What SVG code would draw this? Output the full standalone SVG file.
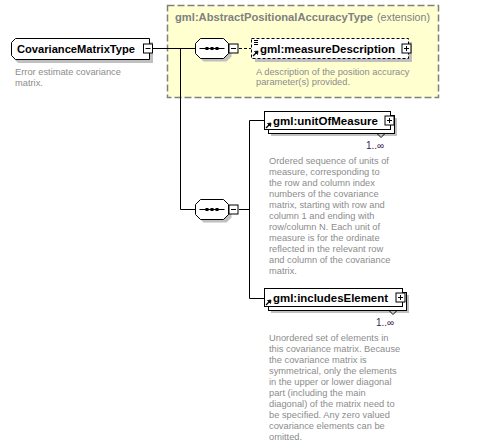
<svg xmlns="http://www.w3.org/2000/svg" width="482" height="447" viewBox="0 0 482 447">
<style>
.bg{fill:#ffffff}
.ext{fill:#ffffd0;stroke:#808080;stroke-width:1.5;stroke-dasharray:7 3}
.shadow{fill:#c0c0c0}
.box{fill:#ffffff;stroke:#000000;stroke-width:1}
.dbox{fill:#ffffff;stroke:#000000;stroke-width:1;stroke-dasharray:3 2}
.ln{fill:none;stroke:#000000;stroke-width:1}
.dln{fill:none;stroke:#000000;stroke-width:1;stroke-dasharray:3 2}
.name{font-family:"Liberation Sans",Arial,sans-serif;font-weight:bold;font-size:11px;fill:#000000}
.title{font-family:"Liberation Sans",Arial,sans-serif;font-size:11px;fill:#808080}
.desc{font-family:"Liberation Sans",Arial,sans-serif;font-size:9.3px;fill:#8c8c8c}
.occ{font-family:"Liberation Sans",Arial,sans-serif;font-size:10px;fill:#402050}
</style>
<defs>
<g id="plus"><rect x="-4.5" y="-4.5" width="9" height="9" fill="#ffffff" stroke="#000000"/><path d="M-2.5 0H2.5M0 -2.5V2.5" stroke="#000000"/></g>
<g id="minus"><rect x="-4.5" y="-4.5" width="9" height="9" fill="#ffffff" stroke="#000000"/><path d="M-2.5 0H2.5" stroke="#000000"/></g>
<g id="seq"><path d="M3 -2 L8 -7 L31 -7 L36 -2 L36 8 L31 13 L8 13 L3 8 Z" class="shadow"/><path d="M0 -5 L5 -10 L28 -10 L33 -5 L33 5 L28 10 L5 10 L0 5 Z" fill="#ffffff" stroke="#000000"/><path d="M4 0H29" stroke="#000000"/><rect x="10" y="-1.5" width="3" height="3" fill="#000000"/><rect x="15" y="-1.5" width="3" height="3" fill="#000000"/><rect x="20" y="-1.5" width="3" height="3" fill="#000000"/></g>
<g id="ref"><path d="M0 5 L4 1" stroke="#000000" stroke-width="1.2"/><path d="M5 0 L1.5 0.5 L4.5 3.5 Z" fill="#000000" stroke="#000000" stroke-width="0.8"/></g>
</defs>
<rect class="bg" x="0" y="0" width="482" height="447"/>
<g id="extension">
<rect class="ext" x="167.5" y="5.5" width="271" height="92"/>
<text class="title" x="175" y="21"><tspan font-weight="bold" textLength="198" lengthAdjust="spacingAndGlyphs">gml:AbstractPositionalAccuracyType</tspan><tspan x="377" textLength="53" lengthAdjust="spacingAndGlyphs">(extension)</tspan></text>
</g>
<g id="connectors">
<path class="ln" d="M153 48.5H195"/>
<path class="ln" d="M180.5 48.5V209.5H195"/>
<path class="dln" d="M239 48.5H251"/>
<path class="ln" d="M239 209.5H249.5"/>
<path class="ln" d="M264 120.5H249.5V298.5H264"/>
</g>
<g id="CovarianceMatrixType">
<path class="shadow" d="M18 42 H153 V63 H18 L14 59 V46 Z"/>
<path class="box" d="M15.5 38.5 H149.5 V59.5 H15.5 L11.5 55.5 V42.5 Z"/>
<text class="name" x="17" y="53" font-size="12" textLength="118" lengthAdjust="spacingAndGlyphs">CovarianceMatrixType</text>
<use href="#minus" x="148" y="48.5"/>
<text class="desc" x="15" y="75">Error estimate covariance</text>
<text class="desc" x="15" y="86">matrix.</text>
</g>
<g id="sequence1">
<use href="#seq" x="195.5" y="48.5"/>
<use href="#minus" x="233.5" y="48.5"/>
</g>
<g id="sequence2">
<use href="#seq" x="195.5" y="209.5"/>
<use href="#minus" x="233.5" y="209.5"/>
</g>
<g id="measureDescription">
<rect class="shadow" x="255" y="42" width="157" height="20"/>
<rect class="dbox" x="251.5" y="38.5" width="157" height="20"/>
<path d="M254 40.5H258M254 42.5H258M254 44.5H258" stroke="#000000" stroke-width="1"/>
<use href="#ref" x="253" y="51"/>
<text class="name" x="260" y="53" textLength="135" lengthAdjust="spacingAndGlyphs">gml:measureDescription</text>
<use href="#plus" x="406.5" y="48.5"/>
<text class="desc" x="256" y="75">A description of the position accuracy</text>
<text class="desc" x="256" y="85">parameter(s) provided.</text>
</g>
<g id="unitOfMeasure">
<rect class="shadow" x="271" y="118" width="126" height="18"/>
<rect class="box" x="268.5" y="115.5" width="126" height="18"/>
<rect class="box" x="264.5" y="111.5" width="126" height="18"/>
<use href="#ref" x="266" y="123"/>
<text class="name" x="273" y="125" textLength="105" lengthAdjust="spacingAndGlyphs">gml:unitOfMeasure</text>
<use href="#plus" x="389.5" y="120.5"/>
<path class="ln" d="M377 133.5L381 137.5L385 133.5"/>
<text class="occ" x="366" y="149">1..∞</text>
<text class="desc" x="269" y="164">Ordered sequence of units of</text>
<text class="desc" x="269" y="175">measure, corresponding to</text>
<text class="desc" x="269" y="186">the row and column index</text>
<text class="desc" x="269" y="197">numbers of the covariance</text>
<text class="desc" x="269" y="208">matrix, starting with row and</text>
<text class="desc" x="269" y="219">column 1 and ending with</text>
<text class="desc" x="269" y="230">row/column N. Each unit of</text>
<text class="desc" x="269" y="241">measure is for the ordinate</text>
<text class="desc" x="269" y="252">reflected in the relevant row</text>
<text class="desc" x="269" y="263">and column of the covariance</text>
<text class="desc" x="269" y="274">matrix.</text>
</g>
<g id="includesElement">
<rect class="shadow" x="271" y="295" width="138" height="18"/>
<rect class="box" x="268.5" y="292.5" width="138" height="18"/>
<rect class="box" x="264.5" y="288.5" width="138" height="18"/>
<use href="#ref" x="266" y="300"/>
<text class="name" x="273" y="302" textLength="115" lengthAdjust="spacingAndGlyphs">gml:includesElement</text>
<use href="#plus" x="400.5" y="297.5"/>
<path class="ln" d="M389 310.5L393 314.5L397 310.5"/>
<text class="occ" x="376" y="326">1..∞</text>
<text class="desc" x="269" y="341">Unordered set of elements in</text>
<text class="desc" x="269" y="352">this covariance matrix. Because</text>
<text class="desc" x="269" y="363">the covariance matrix is</text>
<text class="desc" x="269" y="374">symmetrical, only the elements</text>
<text class="desc" x="269" y="385">in the upper or lower diagonal</text>
<text class="desc" x="269" y="396">part (including the main</text>
<text class="desc" x="269" y="407">diagonal) of the matrix need to</text>
<text class="desc" x="269" y="418">be specified. Any zero valued</text>
<text class="desc" x="269" y="429">covariance elements can be</text>
<text class="desc" x="269" y="440">omitted.</text>
</g>
</svg>
